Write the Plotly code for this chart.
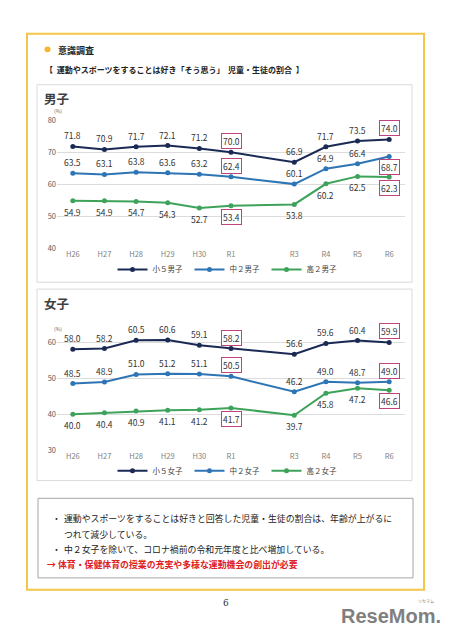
import plotly.graph_objects as go

# ---------------- data ----------------
periods = ["H26", "H27", "H28", "H29", "H30", "R1", "R3", "R4", "R5", "R6"]
fiscal_years = [2014, 2015, 2016, 2017, 2018, 2019, 2021, 2022, 2023, 2024]
highlight_periods = ["R1", "R6"]

boys_names = ["小５男子", "中２男子", "高２男子"]
boys_e5 = [71.8, 70.9, 71.7, 72.1, 71.2, 70.0, 66.9, 71.7, 73.5, 74.0]
boys_j2 = [63.5, 63.1, 63.8, 63.6, 63.2, 62.4, 60.1, 64.9, 66.4, 68.7]
boys_h2 = [54.9, 54.9, 54.7, 54.3, 52.7, 53.4, 53.8, 60.2, 62.5, 62.3]

girls_names = ["小５女子", "中２女子", "高２女子"]
girls_e5 = [58.0, 58.2, 60.5, 60.6, 59.1, 58.2, 56.6, 59.6, 60.4, 59.9]
girls_j2 = [48.5, 48.9, 51.0, 51.2, 51.1, 50.5, 46.2, 49.0, 48.7, 49.0]
girls_h2 = [40.0, 40.4, 40.9, 41.1, 41.2, 41.7, 39.7, 45.8, 47.2, 46.6]

boys_yticks = [40, 50, 60, 70, 80]
girls_yticks = [30, 40, 50, 60]

# ---------------- styles ----------------
# the page body has an 8px margin, so the figure is drawn 8px in
OFF = 8
W, H = 436, 624
FONT = "Noto Sans CJK JP"
colors = ["#1b2a55", "#2e75b6", "#3ea35a"]
BOX = "#c0437f"


def px(x):
    return (x - OFF) / W


def py(y):
    return 1 - (y - OFF) / H


fig = go.Figure()

boys_side = [["up"] * 10, ["up"] * 9 + ["down"], ["down"] * 10]
girls_side = [["up"] * 10, ["up"] * 10, ["down"] * 10]

annotations = []


def add_group(series, names, sides, xa, ya, legend):
    for k, (vals, name) in enumerate(zip(series, names)):
        fig.add_trace(go.Scatter(
            x=fiscal_years, y=vals, name=name, mode="lines+markers",
            line=dict(color=colors[k], width=2),
            marker=dict(color=colors[k], size=5),
            xaxis=xa, yaxis=ya, legend=legend, hoverinfo="skip"))
        for i, v in enumerate(vals):
            boxed = periods[i] in highlight_periods
            up = sides[k][i] == "up"
            a = dict(x=fiscal_years[i], y=v, xref=xa, yref=ya,
                     text=f"{v:.1f}", showarrow=False,
                     yshift=11 if up else -11,
                     font=dict(family=FONT, size=8.5, color="#333333"))
            if boxed:
                a.update(bordercolor=BOX, borderwidth=1, borderpad=1,
                         bgcolor="white")
            annotations.append(a)


add_group([boys_e5, boys_j2, boys_h2], boys_names, boys_side, "x", "y", "legend")
add_group([girls_e5, girls_j2, girls_h2], girls_names, girls_side, "x2", "y2", "legend2")

xcommon = dict(tickmode="array", tickvals=fiscal_years, ticktext=periods,
               range=[2013.5, 2024.5], showgrid=False, zeroline=False,
               showline=False, ticks="",
               tickfont=dict(family=FONT, size=7.5, color="#7f7f7f"))
ycommon = dict(showgrid=True, gridcolor="#dcdcdc", gridwidth=1, zeroline=False,
               showline=False, ticks="",
               tickfont=dict(family=FONT, size=7.5, color="#595959"))

shapes = [
    dict(type="rect", xref="paper", yref="paper", x0=px(27), x1=px(424),
         y0=py(594), y1=py(28), line=dict(color="#f3c64a", width=2)),
    dict(type="rect", xref="paper", yref="paper", x0=px(37), x1=px(412),
         y0=py(281), y1=py(80), line=dict(color="#dadada", width=1)),
    dict(type="rect", xref="paper", yref="paper", x0=px(37), x1=px(412),
         y0=py(483), y1=py(288), line=dict(color="#dadada", width=1)),
    dict(type="rect", xref="paper", yref="paper", x0=px(38), x1=px(413),
         y0=py(582), y1=py(501), line=dict(color="#a6a6a6", width=1)),
    dict(type="circle", xref="paper", yref="paper", x0=px(44.5), x1=px(50.5),
         y0=py(47), y1=py(41), fillcolor="#f5b62e", line=dict(width=0)),
]


def ptext(x, y, text, size=9, color="#222222", anchor="left", bold=False,
          family=FONT, pad=1):
    if bold:
        text = f"<b>{text}</b>"
    annotations.append(dict(x=px(x), y=py(y), xref="paper", yref="paper",
                            text=text, showarrow=False, xanchor=anchor,
                            yanchor="middle", borderpad=pad,
                            font=dict(family=family, size=size, color=color)))


ptext(56, 45, "意識調査", size=9, bold=True)
ptext(43, 64, "【  運動やスポーツをすることは好き「そう思う」  児童・生徒の割合  】",
      size=8, bold=True)
ptext(43, 94, "男子", size=12.5, color="#404040", bold=True, pad=0)
ptext(58, 106, "(%)", size=5, color="#595959", anchor="center", pad=0)
ptext(43, 303, "女子", size=12.5, color="#404040", bold=True, pad=0)
ptext(58, 328, "(%)", size=5, color="#595959", anchor="center", pad=0)

ptext(50, 522, "・", size=8.9)
ptext(62, 522, "運動やスポーツをすることは好きと回答した児童・生徒の割合は、年齢が上がるに", size=8.9)
ptext(62, 538, "つれて減少している。", size=8.9)
ptext(50, 553, "・", size=8.9)
ptext(62, 553, "中２女子を除いて、コロナ禍前の令和元年度と比べ増加している。", size=8.9)
ptext(45, 568, "→ 体育・保健体育の授業の充実や多様な運動機会の創出が必要",
      size=8.9, color="#e02020", bold=True)

ptext(226, 608, "6", size=9, color="#333333", anchor="center",
      family="DejaVu Serif")
ptext(339, 621, "ReseMom.", size=20, color="#7f7f7f", bold=True,
      family="Liberation Sans")
ptext(426, 606, "リセマム", size=4, color="#7f7f7f", anchor="center")

legend_common = dict(orientation="h", xanchor="center", yanchor="middle",
                     itemwidth=30, bgcolor="rgba(0,0,0,0)",
                     entrywidth=32, entrywidthmode="pixels",
                     font=dict(family=FONT, size=7.5, color="#404040"))

fig.update_layout(
    width=W, height=H,
    margin=dict(l=0, r=0, t=0, b=0),
    paper_bgcolor="white", plot_bgcolor="white",
    font=dict(family=FONT),
    xaxis=dict(domain=[px(57), px(405)], anchor="y", **xcommon),
    yaxis=dict(domain=[py(247), py(116)], range=[40, 80],
               tickvals=boys_yticks, anchor="x", **ycommon),
    xaxis2=dict(domain=[px(57), px(405)], anchor="y2", **xcommon),
    yaxis2=dict(domain=[py(452), py(334.6)], range=[30, 62],
                tickvals=girls_yticks, anchor="x2", **ycommon),
    legend=dict(x=px(228), y=py(268), **legend_common),
    legend2=dict(x=px(228), y=py(473), **legend_common),
    shapes=shapes,
    annotations=annotations,
    showlegend=True,
)

fig.write_html("out.html")
